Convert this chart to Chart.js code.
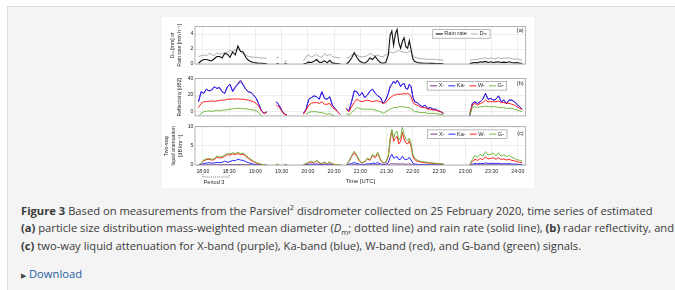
<!DOCTYPE html>
<html>
<head>
<meta charset="utf-8">
<title>Figure 3</title>
<script src="https://cdn.jsdelivr.net/npm/chart.js@4.4.1/dist/chart.umd.min.js"></script>
<style>
  html, body { margin: 0; padding: 0; }
  body { width: 675px; height: 290px; overflow: hidden; background: #fff; position: relative; font-family: "Open Sans", sans-serif; }
  .box { position: absolute; left: 7px; top: 6px; width: 680px; height: 290px; background: #f4f4f4; border-left: 1px solid #dcdcdc; border-top: 1px solid #dcdcdc; }
  .figure { position: absolute; left: 162px; top: 17px; width: 372px; height: 171px; background: #fff; }
  .figure canvas { position: absolute; left: 0; }
  .caption { position: absolute; left: 21px; top: 202px; font-size: 11.2px; line-height: 17.3px; color: #3a3a3a; white-space: nowrap; }
  .caption sup { font-size: 7.5px; line-height: 0; }
  .caption sub { font-size: 7.5px; line-height: 0; }
  .download { position: absolute; left: 21px; top: 265px; font-size: 11.2px; line-height: 17px; color: #1f5f9f; }
  .download span { font-size: 7px; color: #444; margin-right: 3px; }
</style>
</head>
<body>
<div class="box"></div>
<div class="figure">
  <canvas id="panelA" width="372" height="55" style="top:0px"></canvas>
  <canvas id="panelB" width="372" height="48" style="top:55px"></canvas>
  <canvas id="panelC" width="372" height="68" style="top:103px"></canvas>
</div>
<div class="caption">
  <b>Figure 3</b> Based on measurements from the Parsivel<sup>2</sup> disdrometer collected on 25 February 2020, time series of estimated<br>
  <b>(a)</b> particle size distribution mass-weighted mean diameter (<i>D</i><sub>m</sub>; dotted line) and rain rate (solid line), <b>(b)</b> radar reflectivity, and<br>
  <b>(c)</b> two-way liquid attenuation for X-band (purple), Ka-band (blue), W-band (red), and G-band (green) signals.
</div>
<div class="download"><span>&#9654;</span>Download</div>

<script>
// minutes after 18:00 UTC, nulls in the series break the lines between rain events
const timeMin = [
  -5, -2, 1, 4, 7, 10, 13, 16, 19, 22, 25, 28, 31, 34, 37, 40, 43, 46, 49, 52, 55, 58, 61, 64, 67, 70, 73,
  78,
  84, 87, 90, 93, 96,
  105,
  115, 118, 121, 124, 127, 130, 133, 136, 139, 142, 145, 148, 151, 154, 157,
  160,
  164, 167, 170, 173, 176, 179, 182, 185, 188, 191, 194, 197, 200, 203, 206, 209, 212,
  214, 216, 218, 220, 222, 224, 226, 228, 230, 232, 234, 236, 238, 240, 242,
  245, 248, 251, 254, 257, 260, 263, 266, 269, 272, 275,
  290,
  305, 308, 311, 314, 317, 320, 323, 326, 329, 332, 335, 338, 341, 344, 347, 350, 353, 356, 359, 362, 365
];

// (a) rain rate [mm/h] and Dm [mm]
const rainRate = [
  0.1, 0.4, 0.6, 0.6, 0.5, 0.4, 0.7, 1.0, 1.0, 0.8, 1.4, 1.3, 0.9, 1.6, 1.2, 2.4, 1.7, 1.6, 0.9, 0.5, 0.3, 0.2, 0.15, 0.1, 0.1, 0.05, 0.05,
  null,
  0.02, 0.02, null, 0.02, 0.02,
  null,
  0.02, 0.1, 0.25, 0.2, 0.35, 0.6, 0.25, 0.2, 0.45, 0.15, 0.5, 0.15, 0.08, 0.05, 0.03,
  null,
  0.02, 0.3, 0.8, 1.5, 0.9, 0.4, 0.2, 0.1, 0.35, 0.8, 0.6, 1.0, 0.5, 0.2, 0.1, 0.2, 1.2,
  3.8, 4.4, 2.5, 4.0, 4.6, 2.8, 2.1, 3.0, 3.5, 2.3, 2.1, 3.1, 1.9, 0.7, 0.35,
  0.2, 0.15, 0.12, 0.1, 0.1, 0.08, 0.08, 0.06, 0.05, 0.05, 0.04,
  null,
  0.05, 0.15, 0.2, 0.15, 0.3, 0.25, 0.35, 0.2, 0.3, 0.2, 0.25, 0.3, 0.2, 0.25, 0.2, 0.3, 0.2, 0.15, 0.2, 0.1, 0.1
];
const dmDiam = [
  1.0, 1.1, 1.2, 1.1, 1.4, 1.3, 1.1, 1.5, 1.3, 1.4, 1.5, 1.6, 1.8, 1.7, 1.9, 2.0, 1.7, 1.4, 1.2, 1.0, 0.95, 0.9, 0.9, 0.85, 0.8, 0.8, 0.75,
  null,
  0.9, 0.85, null, 0.4, 0.3,
  null,
  0.4, 1.0, 1.2, 0.9, 1.1, 1.3, 1.0, 0.9, 1.4, 1.1, 1.3, 1.0, 0.9, 0.85, 0.8,
  null,
  0.8, 0.9, 1.2, 1.3, 1.2, 1.0, 0.95, 1.0, 1.1, 1.4, 1.2, 1.1, 1.2, 1.0, 1.0, 1.2, 1.4,
  1.6, 1.5, 1.5, 1.6, 1.7, 1.8, 1.7, 1.6, 1.6, 1.5, 1.5, 1.7, 1.6, 1.2, 0.9,
  0.8, 0.7, 0.7, 0.65, 0.6, 0.65, 0.6, 0.6, 0.55, 0.55, 0.5,
  null,
  0.5, 0.55, 0.6, 0.6, 0.75, 0.7, 0.85, 0.7, 0.8, 0.7, 0.75, 0.85, 0.7, 0.8, 0.75, 0.85, 0.7, 0.65, 0.7, 0.6, 0.5
];

// (b) reflectivity [dBZ]
const reflX = [
  12, 24, 22, 27, 25, 26, 30, 28, 29, 24, 22, 30, 33, 25, 30, 34, 38, 33, 27, 24, 23, 20, 16, 9, 1, -2, 0,
  null,
  12, 8, 2, -3, -4,
  null,
  -2, 3, 15, 17, 19, 18, 15, 24, 16, 15, 18, 8, 4, 0, -3,
  null,
  4, 1, 12, 25, 24, 19, 23, 17, 20, 25, 27, 22, 19, 17, 10, 14, 22,
  30, 33, 37, 34, 38, 35, 30, 33, 34, 28, 27, 33, 30, 18, 12,
  11, 8, 6, 8, 4, 5, 3, 3, 1, 0, -2,
  null,
  -5, 10, 12, 10, 12, 15, 22, 15, 16, 14, 15, 19, 12, 14, 10, 14, 14, 12, 9, 6, 3
];
const reflKa = [
  12, 24, 22, 27, 25, 26, 30, 28, 29, 24, 22, 30, 33, 24, 29, 33, 36, 32, 27, 24, 23, 20, 16, 9, 1, -2, 0,
  null,
  12, 8, 2, -3, -4,
  null,
  -2, 3, 15, 17, 19, 18, 15, 24, 16, 15, 18, 8, 4, 0, -3,
  null,
  4, 1, 12, 25, 24, 19, 23, 17, 20, 25, 27, 22, 19, 17, 10, 14, 22,
  30, 33, 36, 34, 37, 35, 30, 33, 34, 28, 27, 33, 30, 18, 12,
  11, 8, 6, 8, 4, 5, 3, 3, 1, 0, -2,
  null,
  -5, 10, 12, 10, 12, 15, 22, 15, 16, 14, 15, 19, 12, 14, 10, 14, 14, 12, 9, 6, 3
];
const reflW = [
  5, 10, 12, 12, 12.5, 13, 12.5, 13, 13.5, 14, 14, 15, 15, 15.5, 15, 15.5, 15, 15, 14.5, 14, 13, 12, 10, 6, 1, -2, -1,
  null,
  8, 6, 1, -3, -4,
  null,
  -3, 2, 8, 10, 11, 11, 10, 12, 9, 9, 10, 5, 3, 0, -3,
  null,
  3, 0, 6, 11, 15, 13, 12, 13, 14, 13, 12, 13, 13, 12, 10, 11, 14,
  17, 18, 20, 20, 21, 21, 21, 21, 22, 21, 22, 21, 18, 12, 9,
  8, 6, 5, 5, 3, 3, 2, 2, 1, 0, -2,
  null,
  -2, 8, 10, 8, 10, 11, 14, 12, 12, 12, 12, 13, 11, 11, 10, 10, 9, 8, 6, 4, 3
];
const reflG = [
  -6, -2, 0, 0.5, 1, 0.5, 1, 1.5, 1, 2, 2, 2.5, 3, 3.5, 4, 4, 4, 3.5, 3.5, 3, 2.5, 2, 1, -1, -5, null, null,
  null,
  -4, null, null, null, null,
  null,
  null, -3, -1, 0, 0, 0, -1, -1, -2, -3, -2, -4, -5, null, null,
  null,
  -2, -4, -1, 2, 5, 4, 3, 3, 3, 3, 3, 2, 1, 0, -2, 0, 2,
  3, 4, 5, 5, 5, 6, 6, 6, 6, 5, 5, 5, 3, 2, 0,
  0, -1, -1, -1, -2, -2, -2, -2, -3, -3, -4,
  null,
  -5, 5, 6, 5, 6, 6, 7, 6, 6, 6, 6, 5, 5, 5, 4, 4, 4, 3, 2, 1, 0
];

// (c) two-way liquid attenuation [dB/km]
const attX = [
  0, 0.02, 0.05, 0.06, 0.07, 0.06, 0.06, 0.08, 0.07, 0.08, 0.1, 0.09, 0.1, 0.12, 0.11, 0.14, 0.12, 0.12, 0.1, 0.07, 0.05, 0.03, 0.02, 0.01, 0.01, 0, 0,
  null,
  0.01, 0.01, null, 0, 0,
  null,
  0, 0.01, 0.02, 0.03, 0.02, 0.04, 0.02, 0.01, 0.03, 0.01, 0.03, 0.01, 0.01, 0, 0,
  null,
  0, 0.03, 0.06, 0.09, 0.06, 0.03, 0.01, 0.02, 0.05, 0.04, 0.07, 0.06, 0.09, 0.04, 0.01, 0.02, 0.08,
  0.25, 0.35, 0.25, 0.28, 0.3, 0.2, 0.22, 0.32, 0.24, 0.2, 0.2, 0.26, 0.18, 0.07, 0.04,
  0.03, 0.02, 0.02, 0.01, 0.01, 0.01, 0.01, 0.01, 0.01, 0.01, 0,
  null,
  0, 0.03, 0.05, 0.04, 0.06, 0.05, 0.07, 0.05, 0.06, 0.06, 0.05, 0.06, 0.05, 0.05, 0.04, 0.05, 0.04, 0.03, 0.03, 0.02, 0.02
];
const attKa = [
  0, 0.1, 0.4, 0.5, 0.6, 0.5, 0.5, 0.7, 0.6, 0.7, 1.0, 0.7, 0.9, 1.2, 1.1, 1.5, 1.3, 1.2, 0.9, 0.6, 0.4, 0.2, 0.1, 0.05, 0.02, 0.01, 0,
  null,
  0.05, 0.04, null, 0.01, 0.01,
  null,
  0.02, 0.08, 0.15, 0.25, 0.15, 0.3, 0.15, 0.1, 0.2, 0.08, 0.2, 0.08, 0.04, 0.02, 0.01,
  null,
  0, 0.2, 0.4, 0.6, 0.4, 0.2, 0.1, 0.15, 0.3, 0.25, 0.5, 0.4, 0.6, 0.3, 0.1, 0.15, 0.6,
  2.0, 2.8, 1.8, 2.0, 2.2, 1.4, 1.5, 2.3, 1.6, 1.4, 1.5, 2.0, 1.3, 0.5, 0.25,
  0.15, 0.1, 0.1, 0.08, 0.07, 0.06, 0.05, 0.05, 0.04, 0.04, 0.03,
  null,
  0.02, 0.2, 0.35, 0.3, 0.4, 0.35, 0.55, 0.4, 0.4, 0.45, 0.35, 0.45, 0.3, 0.35, 0.3, 0.35, 0.25, 0.25, 0.2, 0.15, 0.1
];
const attW = [
  0, 0.4, 1.1, 1.4, 1.5, 1.3, 1.4, 2.1, 1.8, 1.9, 2.3, 2.7, 2.6, 2.9, 2.7, 3.0, 2.7, 2.8, 2.3, 1.7, 1.2, 0.8, 0.5, 0.3, 0.15, 0.08, 0.03,
  null,
  0.15, 0.1, null, 0.04, 0.04,
  null,
  0.08, 0.3, 0.6, 0.8, 0.5, 1.1, 0.5, 0.3, 0.7, 0.25, 0.7, 0.25, 0.12, 0.08, 0.04,
  null,
  0.04, 0.9, 2.2, 3.2, 2.2, 1.0, 0.5, 0.8, 1.6, 1.2, 2.5, 1.9, 3.0, 1.3, 0.5, 0.6, 2.2,
  6.2, 9.0, 6.2, 7.0, 7.5, 5.5, 6.2, 8.5, 6.8, 5.8, 5.5, 6.3, 4.8, 2.3, 1.4,
  1.0, 0.8, 0.7, 0.6, 0.5, 0.45, 0.4, 0.35, 0.3, 0.3, 0.2,
  null,
  0.05, 0.9, 1.5, 1.2, 1.7, 1.4, 2.1, 1.6, 1.7, 1.9, 1.5, 1.9, 1.4, 1.6, 1.3, 1.5, 1.2, 1.1, 0.9, 0.7, 0.6
];
const attG = [
  0, 0.5, 1.3, 1.6, 1.7, 1.5, 1.6, 2.4, 2.1, 2.2, 2.6, 3.0, 2.9, 3.2, 3.0, 3.3, 3.0, 3.1, 2.6, 2.0, 1.5, 1.0, 0.6, 0.4, 0.2, 0.1, 0.05,
  null,
  0.2, 0.15, null, 0.05, 0.05,
  null,
  0.1, 0.4, 0.7, 1.0, 0.6, 1.3, 0.6, 0.4, 0.8, 0.3, 0.8, 0.3, 0.15, 0.1, 0.05,
  null,
  0.05, 1.0, 2.5, 3.6, 2.5, 1.2, 0.6, 0.9, 1.8, 1.4, 2.8, 2.2, 3.3, 1.5, 0.6, 0.7, 2.5,
  7.0, 9.3, 7.0, 8.5, 8.8, 6.5, 7.2, 9.8, 8.0, 6.8, 6.3, 7.0, 5.5, 2.8, 1.8,
  1.3, 1.0, 0.9, 0.8, 0.7, 0.6, 0.5, 0.5, 0.4, 0.4, 0.3,
  null,
  0.1, 1.5, 2.5, 2.0, 2.8, 2.3, 3.5, 2.6, 2.8, 3.1, 2.4, 3.2, 2.3, 2.7, 2.2, 2.5, 2.0, 1.8, 1.4, 1.2, 1.0
];

// axis ticks
const timeTicks = [0, 30, 60, 90, 120, 150, 180, 210, 240, 270, 300, 330, 360];
const timeLabels = ['18:00', '18:30', '19:00', '19:30', '20:00', '20:30', '21:00', '21:30', '22:00', '22:30', '23:00', '23:30', '24:00'];
const rainTicks = [0, 2, 4];
const reflTicks = [0, 20, 40];
const attTicks = [0, 5, 10];

const FIG_FONT = '"Liberation Sans", Arial, "DejaVu Sans", sans-serif';
const GRID = '#e6e6e6';
const TEXT = '#262626';
const bandColors = { X: '#7e2f8e', Ka: '#2424ff', W: '#ff2020', G: '#74b943' };

const toPoints = arr => timeMin.map((t, i) => ({ x: t, y: arr[i] }));

// frame, inset legend, panel tag and the "Period 3" bracket
const panelDecor = {
    id: 'panelDecor',
    afterDraw(chart, args, opts) {
        const { ctx, chartArea: a } = chart;
        ctx.save();

        ctx.strokeStyle = '#a0a0a0';
        ctx.lineWidth = 0.8;
        ctx.strokeRect(a.left, a.top, a.right - a.left, a.bottom - a.top);

        // legend box
        ctx.font = '5.6px ' + FIG_FONT;
        ctx.textBaseline = 'middle';
        const sets = chart.data.datasets;
        let w = 3;
        sets.forEach(d => { w += 8.5 + ctx.measureText(d.label).width + 4; });
        w = w - 4 + 3;
        const bx = a.right - opts.legendRight - w;
        const by = a.top + 3.2;
        const bh = 8.5;
        ctx.fillStyle = '#fff';
        ctx.fillRect(bx, by, w, bh);
        ctx.strokeStyle = '#8a8a8a';
        ctx.lineWidth = 0.6;
        ctx.strokeRect(bx, by, w, bh);
        let x = bx + 3;
        const cy = by + bh / 2;
        sets.forEach(d => {
            ctx.strokeStyle = d.borderColor;
            ctx.lineWidth = d.borderWidth;
            ctx.beginPath();
            ctx.moveTo(x, cy);
            ctx.lineTo(x + 7, cy);
            ctx.stroke();
            ctx.fillStyle = TEXT;
            ctx.textAlign = 'left';
            ctx.fillText(d.label, x + 8.5, cy);
            x += 8.5 + ctx.measureText(d.label).width + 4;
        });

        // panel tag
        ctx.textAlign = 'right';
        ctx.font = '5.6px ' + FIG_FONT;
        ctx.fillStyle = TEXT;
        ctx.fillText(opts.tag, a.right - 2, a.top + opts.tagDy);

        // measurement period bracket
        if (opts.period) {
            const xs = chart.scales.x;
            const x0 = xs.getPixelForValue(opts.period[0]);
            const x1 = xs.getPixelForValue(opts.period[1]);
            const y0 = a.bottom + 9;
            const y1 = a.bottom + 12;
            ctx.strokeStyle = '#333';
            ctx.lineWidth = 0.8;
            ctx.setLineDash([0.8, 1.1]);
            ctx.beginPath();
            ctx.moveTo(x0, y0);
            ctx.lineTo(x0, y1);
            ctx.lineTo(x1, y1);
            ctx.lineTo(x1, y0);
            ctx.stroke();
            ctx.setLineDash([]);
            ctx.textAlign = 'center';
            ctx.font = '5.6px ' + FIG_FONT;
            ctx.fillText(opts.periodLabel, (x0 + x1) / 2 - 2, a.bottom + 17);
        }
        ctx.restore();
    }
};

function timeAxis(showLabels, height) {
    return {
        type: 'linear',
        min: -9,
        max: 369,
        afterBuildTicks: s => { s.ticks = timeTicks.map(v => ({ value: v })); },
        afterFit: s => { s.height = height; },
        grid: { color: GRID, lineWidth: 0.7, drawTicks: false },
        border: { display: false },
        ticks: {
            display: showLabels,
            padding: 4,
            color: TEXT,
            font: { family: FIG_FONT, size: 5.2, lineHeight: 1 },
            maxRotation: 0,
            autoSkip: false,
            callback: (v, i) => timeLabels[i]
        },
        title: {
            display: showLabels,
            text: 'Time [UTC]',
            color: TEXT,
            font: { family: FIG_FONT, size: 5.8, lineHeight: 1 },
            padding: { top: 0, bottom: 3.5 }
        }
    };
}

function valueAxis(min, max, tickList, titleLines, titlePad, lineHeight) {
    return {
        type: 'linear',
        min: min,
        max: max,
        afterBuildTicks: s => { s.ticks = tickList.map(v => ({ value: v })); },
        afterFit: s => { s.width = 33; },
        grid: { color: GRID, lineWidth: 0.7, drawTicks: false },
        border: { display: false },
        ticks: {
            padding: 1.5,
            color: TEXT,
            font: { family: FIG_FONT, size: 5.2, lineHeight: 1 }
        },
        title: {
            display: true,
            text: titleLines,
            color: TEXT,
            font: { family: FIG_FONT, size: 5.2, lineHeight: lineHeight },
            padding: { top: titlePad, bottom: 0 }
        }
    };
}

function line(label, arr, color, width, order) {
    return {
        label: label,
        data: toPoints(arr),
        borderColor: color,
        backgroundColor: color,
        borderWidth: width,
        pointRadius: 0,
        tension: 0,
        spanGaps: false,
        order: order
    };
}

function makePanel(id, datasets, xAxis, yAxis, padding, decor) {
    return new Chart(document.getElementById(id).getContext('2d'), {
        type: 'line',
        data: { datasets: datasets },
        options: {
            responsive: false,
            animation: false,
            events: [],
            layout: { padding: padding },
            scales: { x: xAxis, y: yAxis },
            plugins: {
                legend: { display: false },
                tooltip: { enabled: false },
                panelDecor: decor
            }
        },
        plugins: [panelDecor]
    });
}

// (a) Dm and rain rate
makePanel('panelA',
    [
        line('Rain rate', rainRate, '#111', 1.1, 0),
        line('D\u2098', dmDiam, '#8c8c8c', 0.7, 1)
    ],
    timeAxis(false, 0),
    valueAxis(0, 5, rainTicks, ['D\u2098 [mm] or', 'Rain rate [mm h\u207B\u00B9]'], 6.3, 1.5),
    { top: 9.5, right: 8.3, bottom: 8, left: 0 },
    { tag: '(a)', tagDy: 3.5, legendRight: 35.7 }
);

// (b) reflectivity
makePanel('panelB',
    [
        line('X-', reflX, bandColors.X, 1, 3),
        line('Ka-', reflKa, bandColors.Ka, 1, 2),
        line('W-', reflW, bandColors.W, 1, 1),
        line('G-', reflG, bandColors.G, 1, 0)
    ],
    timeAxis(false, 0),
    valueAxis(-5, 40, reflTicks, 'Reflectivity [dBZ]', 14.8, 1.2),
    { top: 6.4, right: 8.3, bottom: 4.1, left: 0 },
    { tag: '(b)', tagDy: 5, legendRight: 19 }
);

// (c) two-way liquid attenuation
makePanel('panelC',
    [
        line('X-', attX, bandColors.X, 1, 3),
        line('Ka-', attKa, bandColors.Ka, 1, 2),
        line('W-', attW, bandColors.W, 1, 1),
        line('G-', attG, bandColors.G, 1, 0)
    ],
    timeAxis(true, 23),
    valueAxis(0, 10, attTicks, ['Two-way', 'liquid attenuation', '[dB km\u207B\u00B9]'], 1.2, 1.3),
    { top: 6.7, right: 8.3, bottom: 0, left: 0 },
    { tag: '(c)', tagDy: 6.5, legendRight: 18.7, period: [0, 30], periodLabel: 'Period 3' }
);
</script>
</body>
</html>
